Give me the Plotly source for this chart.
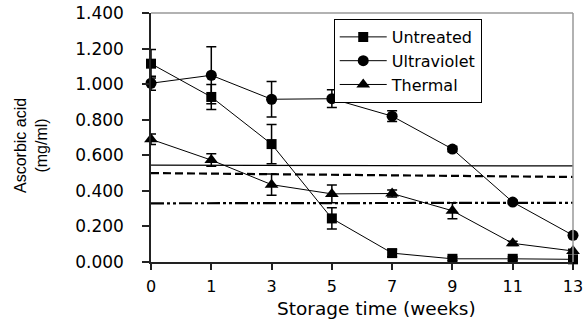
import plotly.graph_objects as go

weeks = ["0", "1", "3", "5", "7", "9", "11", "13"]
untreated = [1.115, 0.928, 0.663, 0.245, 0.050, 0.018, 0.018, 0.015]
untreated_err = [0.08, 0.07, 0.11, 0.06, 0.02, 0.01, 0.01, 0.01]
ultraviolet = [1.005, 1.050, 0.915, 0.918, 0.820, 0.635, 0.337, 0.150]
ultraviolet_err = [0.04, 0.16, 0.10, 0.05, 0.03, 0.015, 0.01, 0.012]
thermal = [0.690, 0.573, 0.435, 0.383, 0.385, 0.288, 0.105, 0.062]
thermal_err = [0.03, 0.035, 0.06, 0.05, 0.02, 0.045, 0.012, 0.01]

ref_x = ["0", "13"]
ref_solid = [0.545, 0.540]
ref_dash = [0.500, 0.478]
ref_dashdot = [0.330, 0.333]

yticks = [0.0, 0.2, 0.4, 0.6, 0.8, 1.0, 1.2, 1.4]

WIDE = "DejaVu Sans, Verdana, sans-serif"
ARIAL = "Liberation Sans, Arial, sans-serif"
fig = go.Figure()

for yv, dash, w in [(ref_solid, "solid", 1.2), (ref_dash, "8px,4px", 2.2),
                    (ref_dashdot, "13px,3px,3px,3px,3px,3px", 2.2)]:
    fig.add_trace(go.Scatter(x=ref_x, y=yv, mode="lines", showlegend=False,
                             line=dict(color="black", width=w, dash=dash),
                             hoverinfo="skip"))

series = [("Untreated", untreated, untreated_err, "square", 10),
          ("Ultraviolet", ultraviolet, ultraviolet_err, "circle", 11),
          ("Thermal", thermal, thermal_err, "triangle-up", 12)]
for name, yv, err, sym, sz in series:
    fig.add_trace(go.Scatter(
        x=weeks, y=yv, name=name, mode="lines+markers", cliponaxis=False,
        line=dict(color="black", width=1),
        marker=dict(symbol=sym, size=sz, color="black"),
        error_y=dict(type="data", array=err, visible=True, color="black",
                     thickness=1.5, width=5)))

fig.update_layout(
    width=585, height=324,
    margin=dict(l=151, r=12, t=13, b=62, autoexpand=False),
    paper_bgcolor="white", plot_bgcolor="white",
    font=dict(family=WIDE, size=16, color="black"),
    showlegend=True,
    legend=dict(x=0.433, y=0.976, xanchor="left", yanchor="top",
                bordercolor="black", borderwidth=1, bgcolor="white",
                font=dict(family=WIDE, size=16), tracegroupgap=0,
                itemwidth=47),
    xaxis=dict(type="category", categoryorder="array", categoryarray=weeks,
               range=[0, 7], showgrid=False, zeroline=False, automargin=False,
               showline=True, linecolor="#222222", linewidth=1.5,
               ticks="outside", ticklen=6, tickcolor="#222222", tickwidth=1.5,
               tickfont=dict(family=WIDE, size=16), ticklabelstandoff=3),
    yaxis=dict(range=[0, 1.4], tickvals=yticks, tickformat=".3f",
               showgrid=False, zeroline=False, automargin=False,
               showline=True, linecolor="#222222", linewidth=1.5,
               ticks="outside", ticklen=7, tickcolor="#222222", tickwidth=1.5,
               tickfont=dict(family=WIDE, size=17), ticklabelstandoff=15),
    annotations=[
        dict(text="Storage time (weeks)", xref="paper", yref="paper",
             x=(376 - 151) / 422, y=(262 - 308) / 249, xanchor="center",
             yanchor="middle", showarrow=False,
             font=dict(family=WIDE, size=18.5)),
        dict(text="Ascorbic acid<br>(mg/ml)", xref="paper", yref="paper",
             x=(31 - 151) / 422, y=(262 - 146) / 249, xanchor="center",
             yanchor="middle", showarrow=False, textangle=-90,
             font=dict(family=ARIAL, size=16)),
    ],
    shapes=[
        dict(type="line", xref="paper", yref="paper", x0=0, x1=1, y0=1, y1=1,
             line=dict(color="#999999", width=1.5)),
        dict(type="line", xref="paper", yref="paper", x0=1, x1=1, y0=0, y1=1,
             line=dict(color="#999999", width=1.5)),
    ],
)

fig.write_html("out.html")
